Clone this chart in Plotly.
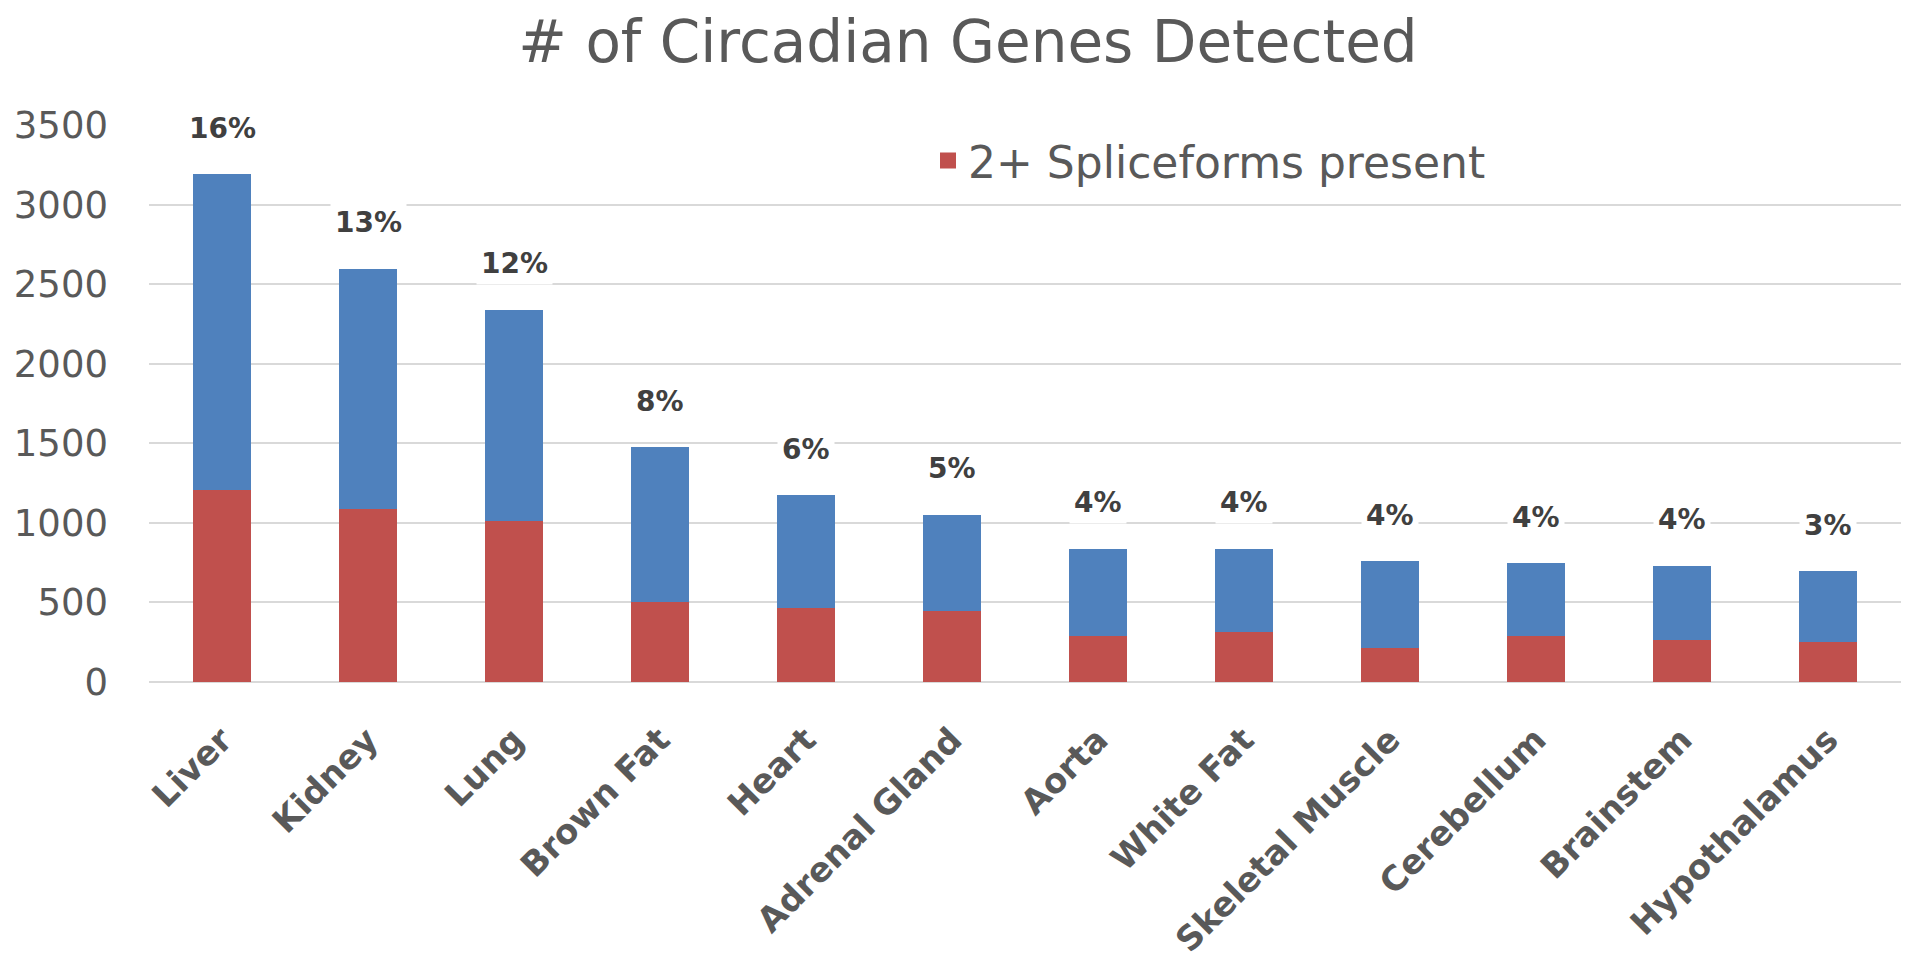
import plotly.graph_objects as go

tissues = ["Liver", "Kidney", "Lung", "Brown Fat", "Heart", "Adrenal Gland", "Aorta",
           "White Fat", "Skeletal Muscle", "Cerebellum", "Brainstem", "Hypothalamus"]
total_genes = [3189, 2596, 2340, 1475, 1172, 1051, 837, 837, 759, 745, 732, 697]
spliced_genes = [1205, 1085, 1011, 502, 464, 445, 291, 315, 213, 289, 262, 251]
pct_labels = ["16%", "13%", "12%", "8%", "6%", "5%", "4%", "4%", "4%", "4%", "4%", "3%"]
y_ticks = [0, 500, 1000, 1500, 2000, 2500, 3000, 3500]

RED = "#C0504D"
BLUE = "#4F81BD"
GRAY = "#595959"

W, H = 1920, 965
ML, MR, MT, MB = 141, 27, 117, 291
PW, PH = W - ML - MR, H - MT - MB

single_genes = [t - s for t, s in zip(total_genes, spliced_genes)]

fig = go.Figure()
fig.add_trace(go.Bar(x=tissues, y=spliced_genes, marker_color=RED, marker_line_width=0,
                     name="2+ Spliceforms present", showlegend=False))
fig.add_trace(go.Bar(x=tissues, y=single_genes, marker_color=BLUE, marker_line_width=0,
                     name="Other", showlegend=False))
# legend entry with a larger square symbol
fig.add_trace(go.Scatter(x=[None], y=[None], mode="markers",
                         marker=dict(symbol="square", size=22, color=RED),
                         name="2+ Spliceforms present", showlegend=True))

for t, tot, lab in zip(tissues, total_genes, pct_labels):
    fig.add_annotation(x=t, y=tot, text=lab, showarrow=False, yshift=46,
                       font=dict(family="DejaVu Sans", size=28, color="#404040", weight="bold"),
                       bgcolor="white", borderpad=4)

fig.update_layout(
    width=W, height=H,
    barmode="stack", bargap=0.60,
    plot_bgcolor="white", paper_bgcolor="white",
    margin=dict(l=ML, r=MR, t=MT, b=MB, autoexpand=False),
    title=dict(text="# of Circadian Genes Detected", x=0.5, xanchor="center",
               y=1 - 34 / H, yanchor="middle", yref="container",
               font=dict(family="DejaVu Sans", size=58, color=GRAY)),
    legend=dict(x=(920 - ML) / PW, xanchor="left",
                y=(MT + PH - 153) / PH, yanchor="middle",
                font=dict(family="DejaVu Sans", size=44, color=GRAY),
                bgcolor="rgba(0,0,0,0)"),
    xaxis=dict(tickangle=-45, tickfont=dict(family="DejaVu Sans", size=34, color=GRAY, weight="bold"),
               showgrid=False, showline=False, ticks="", ticklabelstandoff=30, automargin=False),
    yaxis=dict(range=[0, 3500], tickvals=y_ticks, showgrid=True, gridcolor="#D9D9D9", gridwidth=2,
               zeroline=True, zerolinecolor="#D9D9D9", zerolinewidth=2,
               tickfont=dict(family="DejaVu Sans", size=37, color=GRAY),
               ticks="", ticklabelstandoff=40, showline=False, automargin=False),
)

fig.write_html("out.html")
